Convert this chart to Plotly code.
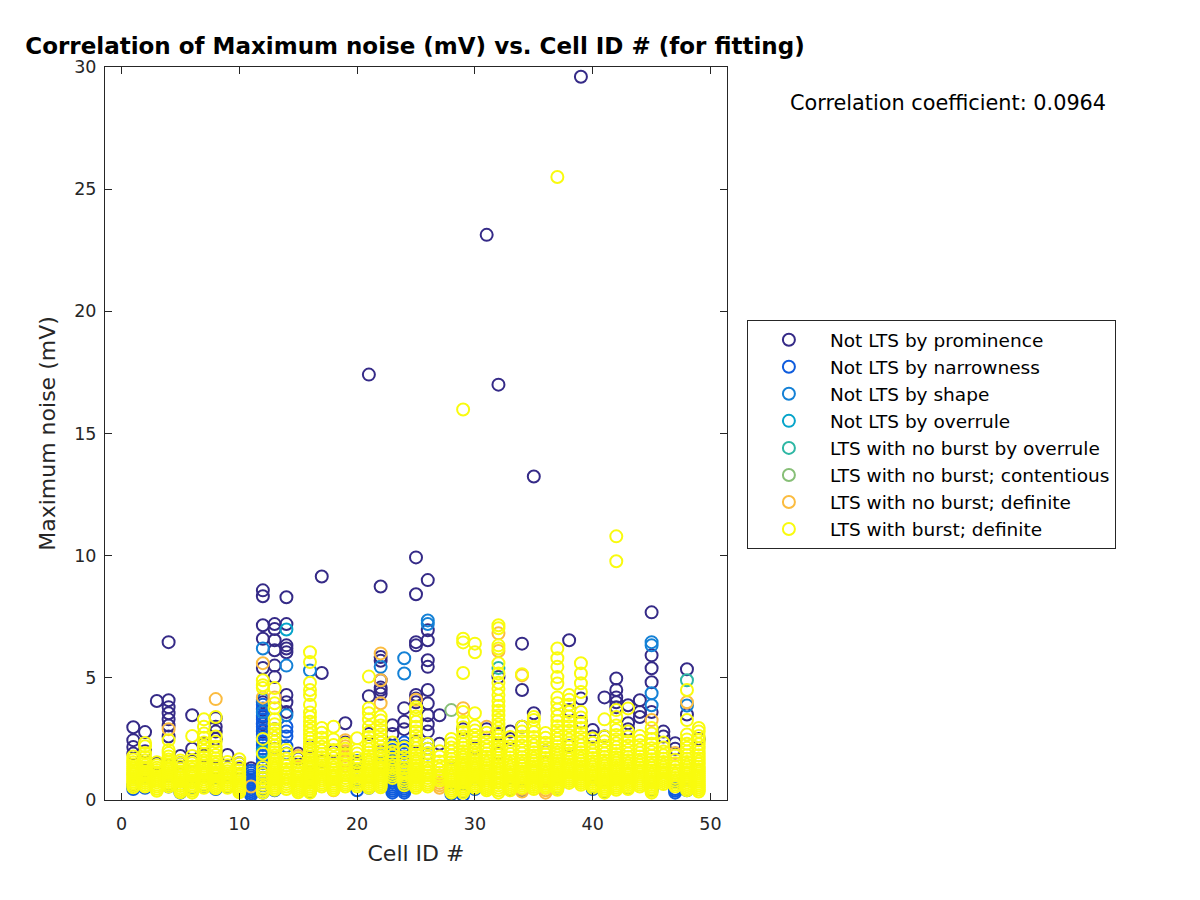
import plotly.graph_objects as go

# ---------------- data ----------------
series_names = [
    "Not LTS by prominence",
    "Not LTS by narrowness",
    "Not LTS by shape",
    "Not LTS by overrule",
    "LTS with no burst by overrule",
    "LTS with no burst; contentious",
    "LTS with no burst; definite",
    "LTS with burst; definite",
]
series_colors = ["#352a87", "#0f5cdd", "#1481d6", "#06a4ca",
                 "#2eb7a4", "#87bf77", "#fbbc40", "#f9fb0e"]

# cell ID -> maximum noise values (mV)
not_lts_prominence = {
    1: [2.98, 2.45, 2.17, 1.9, 0.6], 2: [2.78, 2.0, 1.2], 3: [4.05, 1.5],
    4: [6.46, 4.08, 3.8, 3.55, 3.3, 3.05, 2.6, 1.4], 5: [1.8, 1.5], 6: [3.47, 2.1, 1.6],
    7: [2.3, 1.8], 8: [3.35, 3.0, 2.8, 2.5, 1.3], 9: [1.84], 10: [1.5, 1.3], 11: [1.3, 1.2],
    12: [8.58, 8.34, 7.15, 6.6, 5.4, 4.0, 3.7, 3.4, 3.1, 2.8],
    13: [7.2, 7.0, 6.54, 6.13, 5.5, 5.03, 2.9, 2.1],
    14: [8.3, 7.2, 6.33, 6.2, 6.05, 4.3, 4.0, 3.6], 15: [1.9, 1.7], 16: [2.2, 1.1],
    17: [9.15, 5.2, 1.6], 18: [2.0], 19: [3.14, 2.35], 20: [1.5], 21: [17.41, 4.25, 2.7],
    22: [8.74, 5.85, 5.7, 4.9, 4.6, 4.5, 4.35, 2.0], 23: [3.06, 2.7], 24: [3.76, 3.2, 2.9],
    25: [9.93, 8.42, 6.46, 6.33, 4.3, 4.15, 4.0, 2.4],
    26: [9.0, 6.95, 6.54, 5.72, 5.45, 4.5, 3.95, 3.47, 3.1, 2.8],
    27: [3.47, 2.3], 28: [1.3], 29: [2.9], 30: [2.1], 31: [23.13, 2.9],
    32: [17.0, 5.03, 2.7, 1.9], 33: [2.8, 2.5], 34: [6.4, 4.5, 3.0], 35: [13.24, 3.55],
    36: [2.0], 38: [6.54, 3.68, 2.2], 39: [29.6, 4.15, 3.2], 40: [2.86, 2.6],
    41: [4.2, 2.6], 42: [4.97, 4.5, 4.2, 4.0, 3.8], 43: [3.88, 3.14, 2.9],
    44: [4.08, 3.6, 3.4], 45: [7.68, 5.92, 5.39, 4.82, 3.6], 46: [2.8, 2.6],
    47: [2.32, 2.1], 48: [5.35, 3.5], 49: [2.5],
}
not_lts_narrowness = {
    1: [0.45, 0.55], 2: [0.5], 4: [0.55, 0.65], 5: [0.3], 6: [0.5], 7: [0.55, 0.6],
    8: [0.45], 9: [0.55],
    11: [0.2, 0.28, 0.36, 0.44, 0.52, 0.6, 0.68, 0.76, 0.84, 0.92, 1.0, 1.1, 1.2],
    12: [0.3, 0.45, 0.6, 0.75, 0.9, 1.05, 1.2, 1.35, 1.5, 1.65, 1.8, 1.95, 2.1, 2.25,
         2.4, 2.55, 2.7, 2.85, 3.0, 3.15, 3.3, 3.45, 3.6, 3.75, 3.9],
    13: [0.4], 14: [1.9, 2.2, 2.6, 2.8, 3.0], 16: [0.35], 20: [0.4, 0.8, 1.2, 1.6],
    21: [0.5], 22: [1.5, 1.8],
    23: [0.3, 0.38, 0.46, 0.54, 0.62, 0.7, 0.8, 0.9, 1.0, 1.1, 1.2, 1.3, 1.4, 1.5,
         1.6, 1.75, 1.9, 2.05, 2.2],
    24: [0.3, 0.38, 0.46, 0.54, 0.62, 0.7, 0.8, 0.9, 1.0, 1.1, 1.2, 1.3, 1.45, 1.6,
         1.75, 1.9, 2.05, 2.2, 2.35],
    26: [1.9, 2.1, 2.3], 28: [0.25], 29: [0.2, 0.35], 30: [0.45], 33: [0.45],
    34: [0.4], 37: [0.5], 40: [0.45, 0.55], 41: [0.35], 43: [0.5], 45: [0.4],
    47: [0.3, 0.38, 0.45], 48: [0.4],
}
not_lts_shape = {
    12: [6.2, 4.1, 3.6], 14: [5.5, 3.47], 16: [5.3], 22: [5.45], 24: [5.8, 5.18],
    26: [7.35, 7.2], 45: [6.46, 6.33, 4.37, 3.88], 48: [3.87],
}
not_lts_overrule = {12: [2.0], 14: [6.98]}
lts_noburst_overrule = {32: [5.4], 48: [4.9]}
lts_noburst_contentious = {28: [3.68]}
lts_noburst_definite = {
    4: [2.9], 8: [4.13], 11: [0.55], 12: [5.6, 4.2], 13: [4.2], 15: [1.8], 18: [0.4],
    19: [1.4, 1.6, 1.8, 2.0, 2.2, 2.45], 22: [6.0, 4.9, 3.96], 25: [4.1],
    27: [0.5, 0.6, 0.7, 0.8, 0.9, 1.0], 29: [3.76], 31: [3.0], 32: [6.82, 6.1],
    34: [5.1, 0.35, 0.45], 36: [0.3, 0.4, 0.5], 45: [3.27], 47: [1.92], 48: [4.0],
}
lts_burst_definite = {
    1: [0.52, 0.6, 0.68, 0.75, 0.83, 0.9, 0.97, 1.05, 1.12, 1.2, 1.28, 1.36, 1.45, 1.55, 1.66, 1.78],
    2: [0.55, 0.62, 0.7, 0.78, 0.86, 0.93, 1.0, 1.08, 1.16, 1.25, 1.33, 1.42, 1.52, 1.63, 1.76, 1.92, 2.2, 2.33],
    3: [0.38, 0.46, 0.55, 0.63, 0.72, 0.8, 0.88, 0.97, 1.05, 1.14, 1.23, 1.32, 1.42, 1.55],
    4: [0.55, 0.63, 0.7, 0.78, 0.86, 0.94, 1.02, 1.1, 1.18, 1.27, 1.36, 1.45, 1.55, 1.66, 1.78, 1.92, 2.05, 2.45],
    5: [0.32, 0.4, 0.48, 0.57, 0.65, 0.74, 0.82, 0.9, 0.99, 1.08, 1.17, 1.27, 1.38, 1.5, 1.62],
    6: [0.3, 0.38, 0.46, 0.55, 0.63, 0.72, 0.8, 0.89, 0.98, 1.07, 1.16, 1.26, 1.37, 1.5, 1.64, 1.8, 2.62],
    7: [0.5, 0.58, 0.66, 0.75, 0.84, 0.93, 1.02, 1.11, 1.2, 1.3, 1.4, 1.5, 1.62, 1.75, 1.88, 2.02, 2.18, 2.35, 2.55, 2.72, 3.0, 3.3],
    8: [0.48, 0.56, 0.64, 0.72, 0.8, 0.88, 0.97, 1.06, 1.15, 1.25, 1.35, 1.46, 1.58, 1.7, 1.84, 2.0, 2.18, 2.38, 2.6, 3.4],
    9: [0.5, 0.58, 0.66, 0.74, 0.82, 0.9, 0.99, 1.08, 1.18, 1.29, 1.42, 1.56],
    10: [0.32, 0.4, 0.48, 0.56, 0.64, 0.72, 0.8, 0.89, 0.98, 1.08, 1.2, 1.35, 1.5, 1.67],
    12: [0.3, 0.4, 0.5, 0.62, 0.75, 0.9, 1.05, 1.2, 1.35, 1.9, 2.5, 4.58, 4.7, 4.9],
    13: [0.42, 0.5, 0.58, 0.66, 0.74, 0.82, 0.9, 0.98, 1.06, 1.14, 1.22, 1.3, 1.4, 1.5, 1.6, 1.7, 1.82, 1.95,
         2.08, 2.22, 2.38, 2.55, 2.72, 2.9, 3.1, 3.3, 3.76, 3.96, 4.58],
    14: [0.45, 0.55, 0.65, 0.75, 0.85, 0.95, 1.05, 1.15, 1.27, 1.4, 1.55, 1.7, 1.88, 2.05],
    15: [0.32, 0.4, 0.48, 0.56, 0.64, 0.72, 0.8, 0.88, 0.97, 1.06, 1.16, 1.27, 1.4, 1.55, 1.72],
    16: [0.3, 0.38, 0.46, 0.54, 0.62, 0.7, 0.78, 0.86, 0.94, 1.02, 1.1, 1.18, 1.26, 1.35, 1.44, 1.54, 1.64,
         1.75, 1.86, 1.98, 2.1, 2.24, 2.38, 2.52, 2.68, 2.85, 3.02, 3.2, 3.4, 3.58, 3.9, 4.3, 4.5, 4.8, 5.65, 6.05],
    17: [0.55, 0.63, 0.71, 0.8, 0.88, 0.96, 1.05, 1.14, 1.23, 1.32, 1.42, 1.52, 1.63, 1.75, 1.88, 2.02, 2.18,
         2.35, 2.55, 2.75, 2.95],
    18: [0.42, 0.5, 0.58, 0.66, 0.75, 0.84, 0.93, 1.02, 1.12, 1.22, 1.33, 1.45, 1.58, 1.72, 1.88, 2.05, 2.25, 2.48, 3.0],
    19: [0.55, 0.63, 0.71, 0.8, 0.9, 1.0, 1.1, 1.22, 1.35, 1.5, 1.68, 1.88, 2.1, 2.3],
    20: [0.55, 0.63, 0.71, 0.79, 0.88, 0.97, 1.06, 1.16, 1.27, 1.4, 1.55, 1.72, 1.9, 2.05, 2.53],
    21: [0.5, 0.58, 0.66, 0.74, 0.82, 0.9, 0.98, 1.07, 1.16, 1.25, 1.35, 1.45, 1.56, 1.68, 1.8, 1.94, 2.08,
         2.24, 2.4, 2.58, 2.78, 3.0, 3.3, 3.55, 3.76, 5.05],
    22: [0.52, 0.6, 0.68, 0.76, 0.84, 0.92, 1.0, 1.08, 1.17, 1.26, 1.35, 1.45, 1.55, 1.66, 1.78, 1.9, 2.04,
         2.18, 2.34, 2.5, 2.68, 2.86, 3.05, 3.25, 3.42],
    23: [0.9, 1.0, 1.1, 1.2, 1.3, 1.42, 1.55, 1.68, 1.82, 1.98, 2.15, 2.35],
    24: [0.6, 0.7, 0.8, 0.9, 1.0, 1.1, 1.2, 1.32, 1.45, 1.6, 1.76, 1.95, 2.15],
    25: [0.5, 0.58, 0.66, 0.74, 0.82, 0.9, 0.98, 1.06, 1.14, 1.22, 1.3, 1.4, 1.5, 1.6, 1.72, 1.85, 1.98,
         2.12, 2.28, 2.45, 2.62, 2.8, 3.0, 3.2, 3.42, 3.7, 3.8],
    26: [0.55, 0.63, 0.71, 0.8, 0.9, 1.0, 1.1, 1.2, 1.32, 1.45, 1.6, 1.76, 1.92, 2.1, 2.3],
    27: [0.8, 0.9, 1.0, 1.12, 1.25, 1.4, 1.58, 1.78, 2.0],
    28: [0.3, 0.38, 0.46, 0.55, 0.64, 0.73, 0.82, 0.91, 1.0, 1.1, 1.2, 1.3, 1.42, 1.55, 1.68, 1.82, 1.98,
         2.15, 2.32, 2.5],
    29: [0.3, 0.38, 0.46, 0.54, 0.62, 0.7, 0.78, 0.86, 0.94, 1.02, 1.1, 1.18, 1.27, 1.36, 1.45, 1.55, 1.65,
         1.76, 1.88, 2.0, 2.14, 2.28, 2.44, 2.6, 2.78, 2.98, 3.2, 3.6, 5.2, 6.45, 6.6, 15.98],
    30: [0.5, 0.58, 0.66, 0.74, 0.82, 0.9, 0.98, 1.06, 1.14, 1.22, 1.3, 1.4, 1.5, 1.6, 1.7, 1.82, 1.94, 2.06,
         2.2, 2.34, 2.5, 2.66, 2.84, 3.02, 3.55, 6.05, 6.4],
    31: [0.4, 0.48, 0.56, 0.64, 0.72, 0.8, 0.88, 0.96, 1.04, 1.13, 1.22, 1.31, 1.41, 1.52, 1.64, 1.77, 1.9,
         2.05, 2.2, 2.38, 2.56, 2.75],
    32: [0.3, 0.4, 0.5, 0.6, 0.7, 0.8, 0.9, 1.0, 1.1, 1.2, 1.3, 1.4, 1.5, 1.6, 1.72, 1.84, 1.96, 2.08, 2.2,
         2.34, 2.48, 2.62, 2.78, 2.94, 3.1, 3.28, 3.46, 3.65, 3.85, 4.05, 4.3, 4.55, 4.8, 5.18, 5.6, 6.2,
         6.33, 7.03, 7.15],
    33: [0.4, 0.48, 0.56, 0.64, 0.72, 0.8, 0.88, 0.97, 1.06, 1.15, 1.25, 1.36, 1.48, 1.6, 1.74, 1.88, 2.04,
         2.2, 2.38, 2.58],
    34: [0.5, 0.58, 0.66, 0.74, 0.82, 0.9, 0.99, 1.08, 1.18, 1.28, 1.39, 1.5, 1.62, 1.75, 1.9, 2.05, 2.22,
         2.4, 2.6, 2.8, 3.0, 5.15],
    35: [0.45, 0.53, 0.61, 0.69, 0.77, 0.85, 0.93, 1.01, 1.1, 1.19, 1.28, 1.38, 1.48, 1.59, 1.7, 1.82, 1.95,
         2.09, 2.24, 2.4, 2.58, 2.78, 3.0, 3.27, 3.4],
    36: [0.5, 0.58, 0.66, 0.74, 0.82, 0.9, 0.98, 1.07, 1.16, 1.26, 1.36, 1.47, 1.59, 1.72, 1.86, 2.0, 2.16,
         2.34, 2.55, 2.74],
    37: [0.42, 0.5, 0.58, 0.66, 0.74, 0.82, 0.9, 0.98, 1.06, 1.14, 1.22, 1.3, 1.4, 1.5, 1.6, 1.7, 1.82, 1.94,
         2.06, 2.2, 2.34, 2.5, 2.66, 2.84, 3.02, 3.22, 3.44, 3.7, 3.96, 4.2, 4.77, 5.03, 5.45, 5.8, 6.2, 25.5],
    38: [0.7, 0.78, 0.86, 0.94, 1.02, 1.1, 1.18, 1.27, 1.36, 1.46, 1.56, 1.67, 1.78, 1.9, 2.03, 2.17, 2.32,
         2.48, 2.65, 2.83, 3.02, 3.22, 3.42, 3.6, 3.9, 4.1, 4.3],
    39: [0.62, 0.7, 0.78, 0.86, 0.94, 1.02, 1.1, 1.19, 1.28, 1.38, 1.48, 1.59, 1.7, 1.82, 1.95, 2.09, 2.24,
         2.4, 2.57, 2.75, 2.95, 3.15, 3.38, 3.6, 4.42, 4.78, 5.18, 5.6],
    40: [0.5, 0.58, 0.66, 0.74, 0.82, 0.9, 0.98, 1.07, 1.16, 1.26, 1.36, 1.47, 1.59, 1.72, 1.86, 2.0, 2.16,
         2.34, 2.52],
    41: [0.3, 0.38, 0.46, 0.54, 0.62, 0.7, 0.78, 0.86, 0.94, 1.02, 1.11, 1.2, 1.3, 1.4, 1.51, 1.63, 1.76,
         1.9, 2.05, 2.22, 2.4, 2.6, 3.3],
    42: [0.42, 0.5, 0.58, 0.66, 0.74, 0.82, 0.9, 0.98, 1.06, 1.14, 1.23, 1.32, 1.42, 1.52, 1.63, 1.75, 1.88,
         2.02, 2.16, 2.32, 2.48, 2.66, 2.86, 3.05, 3.4, 3.68, 9.77, 10.79],
    43: [0.45, 0.53, 0.61, 0.69, 0.77, 0.85, 0.93, 1.02, 1.11, 1.2, 1.3, 1.4, 1.51, 1.63, 1.76, 1.9, 2.05,
         2.22, 2.4, 2.6, 2.8, 3.75],
    44: [0.55, 0.63, 0.71, 0.79, 0.87, 0.95, 1.04, 1.13, 1.22, 1.32, 1.42, 1.53, 1.65, 1.78, 1.92, 2.07,
         2.24, 2.42, 2.62],
    45: [0.3, 0.38, 0.46, 0.54, 0.62, 0.7, 0.78, 0.86, 0.94, 1.03, 1.12, 1.21, 1.31, 1.42, 1.54, 1.67, 1.81,
         1.96, 2.12, 2.3, 2.5, 2.72, 2.95],
    46: [0.65, 0.73, 0.81, 0.89, 0.97, 1.05, 1.14, 1.23, 1.33, 1.44, 1.56, 1.69, 1.83, 1.98, 2.15, 2.35],
    47: [0.55, 0.63, 0.71, 0.8, 0.9, 1.0, 1.1, 1.22, 1.35, 1.5, 1.65, 1.82],
    48: [0.4, 0.48, 0.56, 0.64, 0.72, 0.8, 0.88, 0.96, 1.05, 1.14, 1.23, 1.33, 1.44, 1.56, 1.69, 1.83, 1.98,
         2.14, 2.3, 2.48, 2.68, 3.27, 4.5],
    49: [0.35, 0.43, 0.51, 0.59, 0.67, 0.75, 0.83, 0.91, 0.99, 1.08, 1.17, 1.26, 1.36, 1.47, 1.58, 1.7, 1.83,
         1.97, 2.12, 2.28, 2.45, 2.62, 2.8, 2.95],
}
series_data = [not_lts_prominence, not_lts_narrowness, not_lts_shape, not_lts_overrule,
               lts_noburst_overrule, lts_noburst_contentious, lts_noburst_definite,
               lts_burst_definite]

x_ticks = [0, 10, 20, 30, 40, 50]
y_ticks = [0, 5, 10, 15, 20, 25, 30]
corr_text = "Correlation coefficient: 0.0964"

# ---------------- figure ----------------
FONT = "DejaVu Sans"
AX = "#262626"
PAGE_OFF = 8  # the page body adds an 8 px margin around the figure

fig = go.Figure()
for name, color, data in zip(series_names, series_colors, series_data):
    xs, ys = [], []
    for cell, vals in data.items():
        for v in vals:
            xs.append(cell)
            ys.append(v)
    fig.add_trace(go.Scatter(
        x=xs, y=ys, mode="markers", name=name, legendgroup=name,
        marker=dict(symbol="circle-open", size=12, color=color,
                    line=dict(width=2, color=color)),
    ))

axis_common = dict(
    showline=True, linecolor=AX, linewidth=1, mirror="ticks",
    ticks="inside", ticklen=7, tickwidth=1, tickcolor=AX,
    showgrid=False, zeroline=False,
    tickfont=dict(family=FONT, size=17.5, color=AX),
)
fig.update_xaxes(range=[-1.4, 51.4], tickvals=x_ticks, ticklabelstandoff=8,
                 title=dict(text="Cell ID #", font=dict(family=FONT, size=22, color=AX), standoff=12),
                 **axis_common)
fig.update_yaxes(range=[0, 30], tickvals=y_ticks, ticklabelstandoff=4,
                 title=dict(text="Maximum noise (mV)", font=dict(family=FONT, size=22, color=AX), standoff=12),
                 **axis_common)

# target plot area on the page: x 105..727, y 66.7..800
fig.update_layout(
    width=1200, height=900,
    paper_bgcolor="white", plot_bgcolor="white",
    margin=dict(l=105 - PAGE_OFF, r=1200 - (727 - PAGE_OFF), t=66.7 - PAGE_OFF,
                b=900 - (800 - PAGE_OFF), autoexpand=False),
    font=dict(family=FONT, color=AX),
    title=dict(text="<b>Correlation of Maximum noise (mV) vs. Cell ID # (for fitting)</b>",
               font=dict(family=FONT, size=23, color="#000000"),
               x=(415 - PAGE_OFF) / 1200, xanchor="center",
               y=1 - (46 - PAGE_OFF) / 900, yanchor="middle"),
    legend=dict(x=1.032, xanchor="left", y=(800 - 320) / 733.3, yanchor="top",
                bgcolor="white", bordercolor=AX, borderwidth=1,
                font=dict(family=FONT, size=18.5, color="#000000"),
                itemwidth=72, traceorder="normal", tracegroupgap=0),
    annotations=[dict(text=corr_text, xref="paper", yref="paper",
                      x=1.355, y=0.9505, xanchor="center", yanchor="middle",
                      showarrow=False, font=dict(family=FONT, size=20.8, color="#000000"))],
    showlegend=True,
)

fig.write_html("out.html")
